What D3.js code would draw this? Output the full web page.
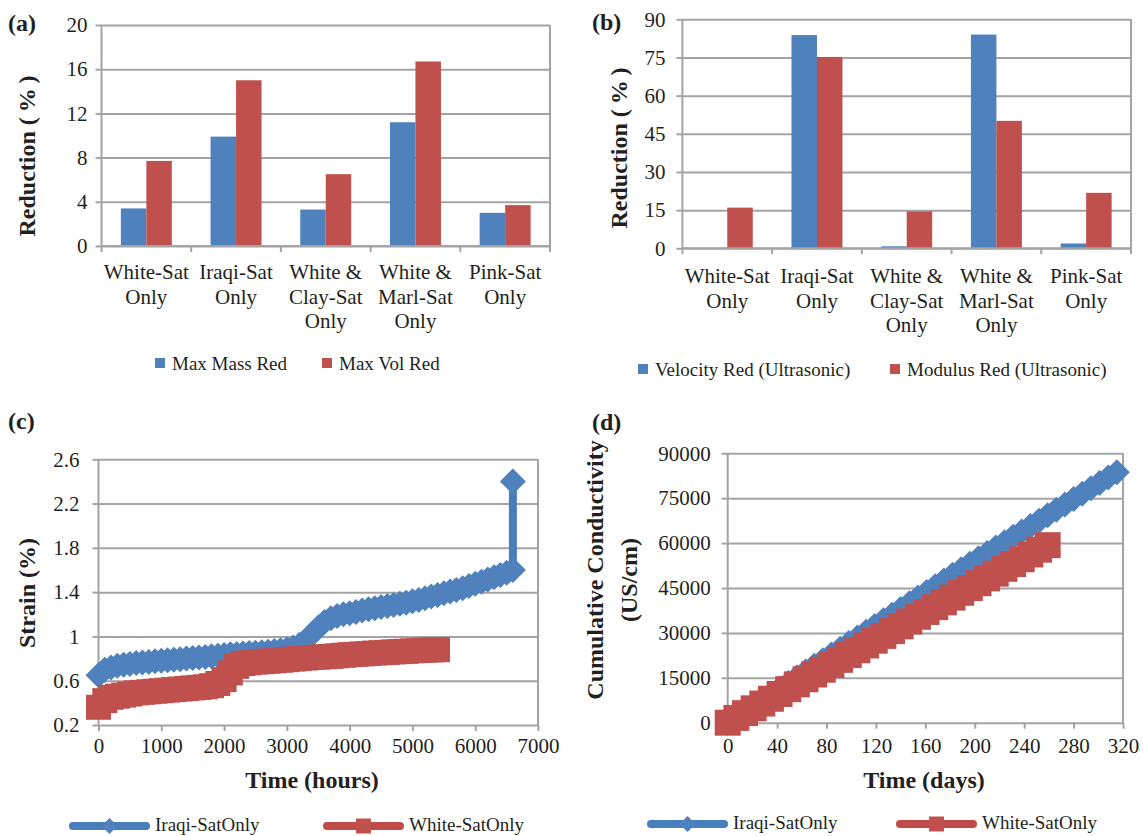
<!DOCTYPE html>
<html><head><meta charset="utf-8">
<script src="https://cdn.jsdelivr.net/npm/d3@7"></script>
<style>body{margin:0;background:#fff}svg{display:block}</style>
</head><body>
<script>
// ---------- data ----------
const categories = ["White-Sat\nOnly","Iraqi-Sat\nOnly","White &\nClay-Sat\nOnly","White &\nMarl-Sat\nOnly","Pink-Sat\nOnly"];
const maxMassRed = [3.4, 9.9, 3.3, 11.2, 3.0];
const maxVolRed  = [7.7, 15.0, 6.5, 16.7, 3.7];
const ticksA = [0,4,8,12,16,20];
const velocityRed = [0, 83.8, 0.8, 84.0, 1.9];
const modulusRed  = [16.0, 75.2, 14.5, 50.1, 21.8];
const ticksB = [0,15,30,45,60,75,90];

const strainTicksY = [0.2,0.6,1,1.4,1.8,2.2,2.6];
const hoursTicks = [0,1000,2000,3000,4000,5000,6000,7000];
const iraqiHours = [0,100,200,300,400,500,600,700,800,900,1000,1100,1200,1300,1400,1500,1600,1700,1800,1900,2000,2100,2200,2300,2400,2500,2600,2700,2800,2900,3000,3100,3200,3300,3400,3500,3600,3700,3800,3900,4000,4100,4200,4300,4400,4500,4600,4700,4800,4900,5000,5100,5200,5300,5400,5500,5600,5700,5800,5900,6000,6100,6200,6300,6400,6500,6600,6600];
const iraqiStrain = [0.65,0.70,0.72,0.735,0.745,0.75,0.76,0.765,0.77,0.775,
  0.78,0.785,0.79,0.795,0.80,0.805,0.81,0.815,0.82,0.826,
  0.833,0.838,0.842,0.846,0.85,0.853,0.857,0.862,0.868,0.875,
  0.885,0.90,0.925,0.965,1.02,1.08,1.13,1.165,1.185,1.20,
  1.21,1.22,1.235,1.245,1.255,1.265,1.275,1.285,1.295,1.305,
  1.318,1.33,1.345,1.36,1.375,1.39,1.405,1.42,1.435,1.455,
  1.475,1.495,1.515,1.535,1.555,1.575,1.60,2.40];
const whiteHours = [0,100,200,300,400,500,600,700,800,900,1000,1100,1200,1300,1400,1500,1600,1700,1800,1900,2000,2100,2200,2300,2400,2500,2600,2700,2800,2900,3000,3100,3200,3300,3400,3500,3600,3700,3800,3900,4000,4100,4200,4300,4400,4500,4600,4700,4800,4900,5000,5100,5200,5300,5400];
const whiteStrain = [0.36,0.42,0.45,0.46,0.47,0.48,0.49,0.495,0.50,0.505,
  0.51,0.515,0.52,0.525,0.53,0.535,0.54,0.545,0.555,0.575,
  0.61,0.67,0.73,0.755,0.762,0.768,0.772,0.776,0.78,0.785,
  0.79,0.795,0.80,0.805,0.81,0.813,0.817,0.82,0.825,0.83,
  0.835,0.838,0.842,0.846,0.85,0.853,0.856,0.86,0.863,0.866,
  0.87,0.873,0.876,0.878,0.88];

const condTicksY = [0,15000,30000,45000,60000,75000,90000];
const daysTicks = [0,40,80,120,160,200,240,280,320];
const iraqiDays = [0,7,14,21,28,35,42,49,56,63,70,77,84,91,98,105,112,119,126,133,140,147,154,161,168,175,182,189,196,203,210,217,224,231,238,245,252,259,266,273,280,287,294,301,308,315];
const iraqiCond = [0,1900,3800,5700,7600,9500,11400,13300,15200,17100,19000,20900,22800,24700,26600,28500,30400,32300,34200,36100,38000,39900,41800,43700,45600,47500,49400,51300,53100,54900,56700,58500,60300,62100,63900,65700,67500,69300,71100,72900,74700,76500,78300,80100,81900,83700];
const whiteDays = [0,7,14,21,28,35,42,49,56,63,70,77,84,91,98,105,112,119,126,133,140,147,154,161,168,175,182,189,196,203,210,217,224,231,238,245,252,259];
const whiteCond = [0,1600,3200,4800,6400,8000,9600,11200,12800,14500,16100,17700,19300,21000,22600,24200,25800,27400,29000,30600,32200,33800,35400,37000,38600,40200,41800,43400,45000,46600,48200,49800,51400,53000,54600,56200,57800,59300];

// ---------- style ----------
const FONT = '"Liberation Serif","Times New Roman",serif';
const TXT = '#231f20';
const GRID = '#a4a4a4';
const BLUE = '#4f81bd', RED = '#c0504d';
const BLUE_LINE = '#4a7ebb', RED_LINE = '#be4b48';

const svg = d3.select('body').append('svg').attr('width',1143).attr('height',836);
svg.append('rect').attr('width',1143).attr('height',836).attr('fill','#fff');

function styleAxis(s, fs){
  s.select('.domain').remove();
  s.selectAll('line').attr('stroke',GRID).attr('stroke-width',2);
  s.selectAll('text').attr('font-size',fs).attr('font-family',FONT).attr('fill',TXT);
}
function txt(x,y,str,opts={}){
  const t = svg.append('text').attr('x',x).attr('y',y).text(str)
    .attr('font-family',FONT).attr('fill',TXT)
    .attr('font-size',opts.size||21).attr('font-weight',opts.bold?'bold':'normal')
    .attr('text-anchor',opts.anchor||'start');
  if(opts.rotate) t.attr('transform',`rotate(-90,${x},${y})`);
  return t;
}

function drawBarPanel(p){
  const g = svg.append('g');
  const x0 = d3.scaleBand().domain(categories).range([p.left,p.right]);
  const x1 = d3.scaleBand().domain([0,1]).range([0,x0.bandwidth()]).paddingOuter(0.76);
  const y = d3.scaleLinear().domain([0,p.ymax]).range([p.bottom,p.top]);
  const w = p.right-p.left;
  g.append('g').attr('transform',`translate(${p.left},0)`)
    .call(d3.axisLeft(y).tickValues(p.ticks).tickSize(-w).tickFormat(''))
    .call(s=>styleAxis(s,21));
  g.append('g').attr('transform',`translate(${p.left},0)`)
    .call(d3.axisLeft(y).tickValues(p.ticks).tickSize(6).tickPadding(p.pad).tickFormat(d3.format('d')))
    .call(s=>styleAxis(s,21));
  [p.series1,p.series2].forEach((vals,si)=>{
    g.append('g').selectAll('rect').data(vals).join('rect')
      .attr('x',(d,i)=>x0(categories[i])+x1(si))
      .attr('width',x1.bandwidth())
      .attr('y',d=>y(d)).attr('height',d=>y(0)-y(d))
      .attr('fill',[BLUE,RED][si]);
  });
  g.append('line').attr('x1',p.left).attr('x2',p.right).attr('y1',y(0)).attr('y2',y(0)).attr('stroke',GRID).attr('stroke-width',2);
  const bounds = categories.map(c=>x0(c)).concat([p.right]);
  g.append('g').selectAll('line').data(bounds).join('line')
    .attr('x1',d=>d).attr('x2',d=>d).attr('y1',(d,i)=> (i===0||i===bounds.length-1)? y(p.ymax): y(0)).attr('y2',y(0)+6)
    .attr('stroke',GRID).attr('stroke-width',2);
  categories.forEach(c=>{
    const t = g.append('text').attr('font-family',FONT).attr('font-size',21).attr('fill',TXT).attr('text-anchor','middle');
    c.split('\n').forEach((line,i)=>{
      t.append('tspan').attr('x',x0(c)+x0.bandwidth()/2).attr('y',p.labelY+i*24.5).text(line);
    });
  });
  p.legend.forEach((L,i)=>{
    g.append('rect').attr('x',L.x).attr('y',p.legendY-12).attr('width',10).attr('height',10).attr('fill',[BLUE,RED][i]);
    g.append('text').attr('x',L.x+17).attr('y',p.legendY).attr('font-family',FONT).attr('font-size',19).attr('fill',TXT).text(L.label);
  });
}

drawBarPanel({left:101.5,right:550,top:25,bottom:246,ymax:20,ticks:ticksA,pad:8,
  series1:maxMassRed,series2:maxVolRed,labelY:279,legendY:370,
  legend:[{x:155,label:'Max Mass Red'},{x:322,label:'Max Vol Red'}]});
drawBarPanel({left:682.4,right:1131,top:19.3,bottom:248.3,ymax:90,ticks:ticksB,pad:11,
  series1:velocityRed,series2:modulusRed,labelY:283,legendY:376,
  legend:[{x:638,label:'Velocity Red (Ultrasonic)'},{x:890,label:'Modulus Red (Ultrasonic)'}]});

function diamondPath(r){ return `M0,${-r}L${r},0L0,${r}L${-r},0Z`; }
function squarePath(r){ return `M${-r},${-r}H${r}V${r}H${-r}Z`; }

function drawLinePanel(p){
  const g = svg.append('g');
  const x = d3.scaleLinear().domain(p.xdom).range([p.left,p.right]);
  const y = d3.scaleLinear().domain(p.ydom).range([p.bottom,p.top]);
  const w = p.right-p.left;
  g.append('g').attr('transform',`translate(${p.left},0)`)
    .call(d3.axisLeft(y).tickValues(p.yticks).tickSize(-w).tickFormat(''))
    .call(s=>styleAxis(s,21));
  g.append('g').attr('transform',`translate(${p.left},0)`)
    .call(d3.axisLeft(y).tickValues(p.yticks).tickSize(6).tickPadding(p.ypad).tickFormat(p.yfmt))
    .call(s=>styleAxis(s,21));
  g.append('g').attr('transform',`translate(0,${p.bottom})`)
    .call(d3.axisBottom(x).tickValues(p.xticks).tickSize(6).tickPadding(p.xpad).tickFormat(d3.format('d')))
    .call(s=>styleAxis(s,21));
  [p.left,p.right].forEach(xx=>{
    g.append('line').attr('x1',xx).attr('x2',xx).attr('y1',p.top).attr('y2',p.bottom).attr('stroke',GRID).attr('stroke-width',2);
  });
  p.series.forEach(S=>{
    const pts = S.xs.map((v,i)=>[v,S.ys[i]]);
    g.append('path').datum(pts)
      .attr('d',d3.line().x(d=>x(d[0])).y(d=>y(d[1])))
      .attr('fill','none').attr('stroke',S.line).attr('stroke-width',8)
      .attr('stroke-linejoin','round').attr('stroke-linecap','round');
    g.append('g').selectAll('path').data(pts).join('path')
      .attr('transform',d=>`translate(${x(d[0])},${y(d[1])})`)
      .attr('d',S.shape==='diamond'?diamondPath(S.r):squarePath(S.r))
      .attr('fill',S.color);
  });
  p.legend.forEach(L=>{
    g.append('line').attr('x1',L.x).attr('x2',L.x+73).attr('y1',p.legendY).attr('y2',p.legendY)
      .attr('stroke',L.line).attr('stroke-width',8).attr('stroke-linecap','round');
    g.append('path').attr('transform',`translate(${L.x+36.5},${p.legendY})`)
      .attr('d',L.shape==='diamond'?diamondPath(8):squarePath(7.5)).attr('fill',L.color);
    g.append('text').attr('x',L.x+82).attr('y',p.legendY+5).attr('font-family',FONT).attr('font-size',19).attr('fill',TXT).text(L.label);
  });
}

drawLinePanel({left:98.5,right:538,top:459.3,bottom:725,xdom:[0,7000],ydom:[0.2,2.6],
  yticks:strainTicksY,xticks:hoursTicks,ypad:13,xpad:7,yfmt:d3.format('~g'),
  series:[
    {xs:iraqiHours,ys:iraqiStrain,shape:'diamond',r:13,color:BLUE,line:BLUE_LINE},
    {xs:whiteHours,ys:whiteStrain,shape:'square',r:12.5,color:RED,line:RED_LINE}],
  legendY:826,
  legend:[{x:73,label:'Iraqi-SatOnly',shape:'diamond',color:BLUE,line:BLUE_LINE},
          {x:327,label:'White-SatOnly',shape:'square',color:RED,line:RED_LINE}]});

drawLinePanel({left:727.7,right:1123,top:453.3,bottom:722.7,xdom:[0,320],ydom:[0,90000],
  yticks:condTicksY,xticks:daysTicks,ypad:11,xpad:9,yfmt:d3.format('d'),
  series:[
    {xs:iraqiDays,ys:iraqiCond,shape:'diamond',r:13,color:BLUE,line:BLUE_LINE},
    {xs:whiteDays,ys:whiteCond,shape:'square',r:13,color:RED,line:RED_LINE}],
  legendY:824,
  legend:[{x:651,label:'Iraqi-SatOnly',shape:'diamond',color:BLUE,line:BLUE_LINE},
          {x:900,label:'White-SatOnly',shape:'square',color:RED,line:RED_LINE}]});

// ---------- titles ----------
txt(8,31,'(a)',{size:24,bold:true});
txt(592,30,'(b)',{size:24,bold:true});
txt(8,429,'(c)',{size:24,bold:true});
txt(592,430,'(d)',{size:24,bold:true});
txt(35,156,'Reduction (\u2009%\u2009)',{size:24,bold:true,anchor:'middle',rotate:true});
txt(627,148,'Reduction (\u2009%\u2009)',{size:24,bold:true,anchor:'middle',rotate:true});
txt(35,593,'Strain (%)',{size:24,bold:true,anchor:'middle',rotate:true});
txt(603,570,'Cumulative Conductivity',{size:24,bold:true,anchor:'middle',rotate:true});
txt(637,580,'(US/cm)',{size:24,bold:true,anchor:'middle',rotate:true});
txt(312,788,'Time (hours)',{size:24,bold:true,anchor:'middle'});
txt(924,788,'Time (days)',{size:24,bold:true,anchor:'middle'});
</script>
</body></html>
